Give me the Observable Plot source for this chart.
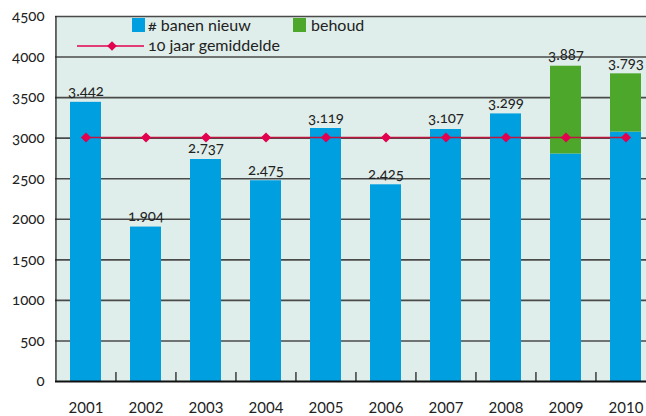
<!DOCTYPE html>
<html>
<head>
<meta charset="utf-8">
<script src="https://cdn.jsdelivr.net/npm/d3@7"></script>
<script src="https://cdn.jsdelivr.net/npm/@observablehq/plot@0.6"></script>
<style>
  html, body { margin: 0; padding: 0; background: #fff; }
  body { font-family: Lato, "Open Sans", sans-serif; font-variant-numeric: oldstyle-nums; }
  #wrap { position: relative; width: 646px; height: 416px; overflow: hidden; }
  #wrap svg text { font-variant-numeric: oldstyle-nums; }
  #wrap svg g[aria-label="x-axis tick label"] text { font-variant-numeric: lining-nums; }
  .lg { position: absolute; font-size: 16px; line-height: 18px; color: #222; white-space: nowrap; }
  .sw { position: absolute; width: 13px; height: 14px; }
</style>
</head>
<body>
<div id="wrap"></div>
<script>
// ---- data ----
const years = ["2001","2002","2003","2004","2005","2006","2007","2008","2009","2010"];
const nieuw = [3442, 1904, 2737, 2475, 3119, 2425, 3107, 3299, 2805, 3075];
const behoud = [0, 0, 0, 0, 0, 0, 0, 0, 1082, 718];
const totaal = [3442, 1904, 2737, 2475, 3119, 2425, 3107, 3299, 3887, 3793];
const gemiddelde = 3008;
const yTicks = [0, 500, 1000, 1500, 2000, 2500, 3000, 3500, 4000, 4500];
const seriesNames = ["# banen nieuw", "behoud", "10 jaar gemiddelde"];

const colBlue = "#009fe0", colGreen = "#4da72a", colRed = "#e2004f", colLine = "#c0163f";
const nl = d3.formatLocale({decimal: ",", thousands: ".", grouping: [3], currency: ["€", ""]}).format(",d");

const chart = Plot.plot({
  width: 646, height: 416,
  marginLeft: 55, marginRight: 0, marginTop: 16, marginBottom: 35,
  style: {fontFamily: "Lato, 'Open Sans', sans-serif", fontSize: "15px", color: "#222", background: "transparent", overflow: "visible"},
  x: {domain: years, range: [55, 656], paddingInner: 0.483, paddingOuter: 0.2415, label: null},
  y: {domain: [0, 4500], label: null},
  marks: [
    Plot.frame({fill: "#dfeeea", stroke: null}),
    Plot.ruleY(yTicks.slice(1), {stroke: "#4a4a4a", strokeWidth: 1.6}),
    Plot.barY(years, {x: d => d, y1: 0, y2: (d, i) => nieuw[i], fill: colBlue}),
    Plot.barY(years, {x: d => d, y1: (d, i) => nieuw[i], y2: (d, i) => totaal[i], fill: colGreen}),
    Plot.ruleX(years.slice(1), {x: d => d, dx: -30.05, y1: 0, y2: 110, stroke: "#222", strokeWidth: 1.3}),
    Plot.ruleY([0], {stroke: "#111", strokeWidth: 2}),
    Plot.ruleX([years[0]], {x: d => d, dx: -30.05, y1: 0, y2: 4500, stroke: "#222", strokeWidth: 1.3}),
    Plot.lineY(years, {x: d => d, y: () => gemiddelde, stroke: colLine, strokeWidth: 1.6}),
    Plot.dot(years, {x: d => d, y: () => gemiddelde, symbol: "diamond2", r: 4.6, fill: colRed, stroke: null}),
    Plot.text(years, {x: d => d, y: (d, i) => totaal[i], text: (d, i) => nl(totaal[i]), dy: -6, lineAnchor: "bottom", fontSize: 15, fill: "#222"}),
    Plot.axisY({ticks: yTicks, tickSize: 0, tickPadding: 11, tickFormat: d => String(d), fontSize: 15}),
    Plot.axisX({tickSize: 0, tickPadding: 21, fontSize: 15})
  ]
});

const wrap = document.getElementById("wrap");
wrap.appendChild(chart);

// legend overlay
function add(html) { const d = document.createElement("div"); d.innerHTML = html; wrap.appendChild(d.firstElementChild); }
add(`<div class="sw" style="left:132px;top:18px;background:${colBlue}"></div>`);
add(`<div class="lg" style="left:148px;top:16px">${seriesNames[0]}</div>`);
add(`<div class="sw" style="left:293px;top:18px;background:${colGreen}"></div>`);
add(`<div class="lg" style="left:311px;top:16px">${seriesNames[1]}</div>`);
add(`<svg style="position:absolute;left:76px;top:38px" width="70" height="16"><line x1="1" x2="68" y1="8" y2="8" stroke="${colRed}" stroke-width="1.6"/><path d="M36,3.2 L40.8,8 L36,12.8 L31.2,8Z" fill="${colRed}"/></svg>`);
add(`<div class="lg" style="left:148px;top:36px">${seriesNames[2]}</div>`);
</script>
</body>
</html>
